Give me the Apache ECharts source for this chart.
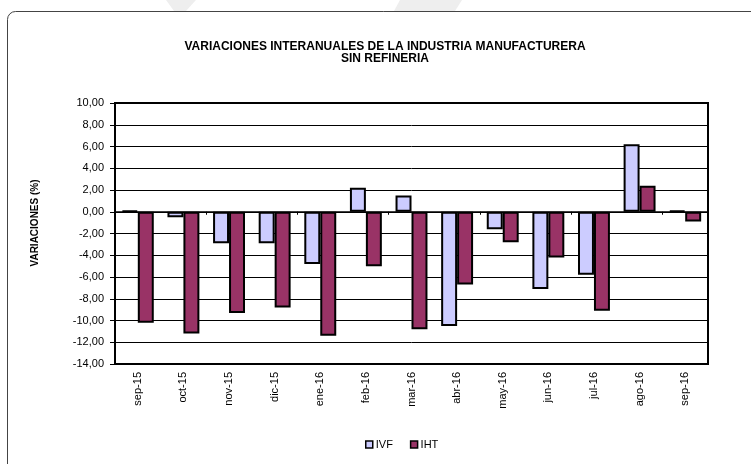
<!DOCTYPE html>
<html>
<head>
<meta charset="utf-8">
<script src="https://cdn.jsdelivr.net/npm/echarts@6/dist/echarts.min.js"></script>
<style>
  html, body { margin: 0; padding: 0; background: #fff; }
  #main { width: 751px; height: 464px; }
</style>
</head>
<body>
<div id="main"></div>
<script>
// datos
const months = ['sep-15', 'oct-15', 'nov-15', 'dic-15', 'ene-16', 'feb-16', 'mar-16',
  'abr-16', 'may-16', 'jun-16', 'jul-16', 'ago-16', 'sep-16']
const ivf = [0.1, -0.5, -2.9, -2.9, -4.8, 2.2, 1.5, -10.5, -1.6, -7.1, -5.8, 6.2, 0.1]
const iht = [-10.2, -11.2, -9.3, -8.8, -11.4, -5.0, -10.8, -6.7, -2.8, -4.2, -9.1, 2.4, -0.9]
const titleLines = ['VARIACIONES INTERANUALES DE LA INDUSTRIA MANUFACTURERA', 'SIN REFINERIA']
const yName = 'VARIACIONES (%)'

const font = 'Liberation Sans, Arial, sans-serif'
const chart = echarts.init(document.getElementById('main'))

chart.setOption({
  backgroundColor: '#fff',
  animation: false,
  textStyle: { fontFamily: font, color: '#000' },
  graphic: [
    // marca de agua tenue arriba
    { type: 'polygon', silent: true, z: -10,
      shape: { points: [[166, 0], [196, 0], [186, 11], [174, 11]] },
      style: { fill: '#eeeeee' } },
    { type: 'polygon', silent: true, z: -10,
      shape: { points: [[400, 0], [462, 0], [455, 11], [394, 11]] },
      style: { fill: '#eeeeee' } },
    // marco exterior
    { type: 'rect', silent: true, z: -5,
      shape: { x: 7.5, y: 11.5, width: 820, height: 520, r: 8 },
      style: { fill: '#fff', stroke: '#444', lineWidth: 1 } },
    { type: 'text', silent: true,
      style: {
        x: 385, y: 41, text: titleLines.join('\n'), align: 'center',
        font: 'bold 12px ' + font, lineHeight: 11.5, fill: '#000'
      } },
    { type: 'text', silent: true, x: 35, y: 223, rotation: Math.PI / 2,
      style: {
        x: 0, y: 0, text: yName, align: 'center', verticalAlign: 'middle',
        font: 'bold 10px ' + font, fill: '#000'
      } }
  ],
  legend: {
    left: 360, top: 434,
    itemWidth: 7, itemHeight: 7, itemGap: 17,
    icon: 'rect',
    textStyle: { fontSize: 11, color: '#000', fontFamily: font, padding: [0, 0, 0, -2] },
    itemStyle: { borderColor: '#000', borderWidth: 1.5 },
    data: ['IVF', 'IHT']
  },
  grid: {
    left: 115, top: 103, width: 593, height: 261,
    show: true, borderColor: '#000', borderWidth: 2, backgroundColor: '#fff'
  },
  xAxis: [
    {
      type: 'category', data: months, position: 'bottom',
      axisLine: { onZero: true, lineStyle: { color: '#000', width: 1.5 } },
      axisTick: { show: true, length: 3, lineStyle: { color: '#000', width: 1 } },
      axisLabel: { show: false }
    },
    {
      type: 'category', data: months, position: 'bottom',
      axisLine: { show: false, onZero: false },
      axisTick: { show: false },
      axisLabel: { rotate: 90, margin: 8, fontSize: 11, color: '#000', fontFamily: font }
    }
  ],
  yAxis: {
    type: 'value', min: -14, max: 10, interval: 2,
    axisLine: { show: true, lineStyle: { color: '#000', width: 2 } },
    axisTick: { show: true, length: 5, lineStyle: { color: '#000' } },
    axisLabel: {
      fontSize: 11, color: '#000', margin: 11, fontFamily: font,
      formatter: v => v.toFixed(2).replace('.', ',')
    },
    splitLine: { show: true, lineStyle: { color: '#000', width: 1 } }
  },
  series: [
    {
      name: 'IVF', type: 'bar', data: ivf, xAxisIndex: 0,
      barGap: '0%', barCategoryGap: '30%',
      itemStyle: { color: '#ccccff', borderColor: '#000', borderWidth: 2 }
    },
    {
      name: 'IHT', type: 'bar', data: iht, xAxisIndex: 0,
      barGap: '0%', barCategoryGap: '30%',
      itemStyle: { color: '#993366', borderColor: '#000', borderWidth: 2 }
    }
  ]
})

window.addEventListener('resize', () => chart.resize())
</script>
</body>
</html>
